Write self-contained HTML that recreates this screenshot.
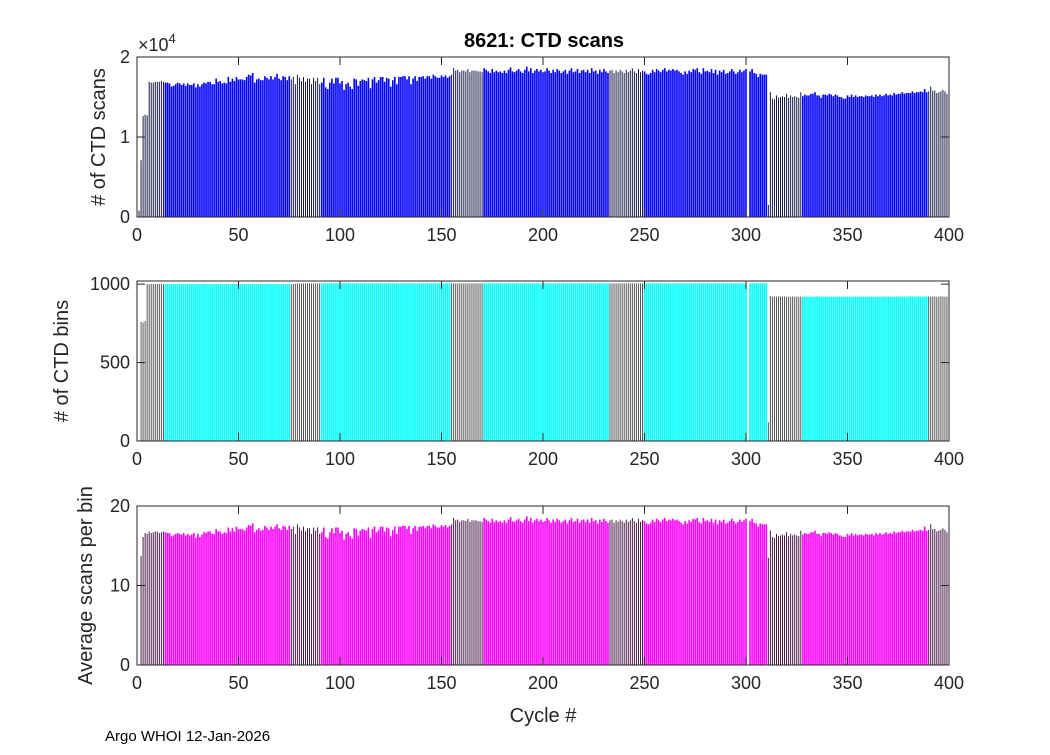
<!DOCTYPE html>
<html><head><meta charset="utf-8"><style>
body{margin:0;background:#fff;}
svg text{font-family:"Liberation Sans",sans-serif;fill:#262626;}
</style></head><body>
<svg id="fig" width="1050" height="750" viewBox="0 0 1050 750" xmlns="http://www.w3.org/2000/svg">
<rect width="1050" height="750" fill="#fff"/>
<text x="544" y="47" font-size="20" font-weight="bold" text-anchor="middle" style="fill:#000">8621: CTD scans</text>
<text x="543" y="722" font-size="20" text-anchor="middle">Cycle #</text>
<text x="105" y="741" font-size="15" style="fill:#000">Argo WHOI 12-Jan-2026</text>
<g id="plots"></g>
</svg>
<script>
const cycles = Array.from({length:400},(_,i)=>i+1);
const scansK = [
0.8,7.1,12.6,12.8,12.7,16.9,16.8,16.8,16.9,16.9,
16.9,17.0,16.9,16.8,16.8,16.7,16.3,16.4,16.6,16.8,
16.7,16.5,16.7,16.4,16.7,16.5,16.5,16.7,16.2,16.6,
16.3,16.6,16.8,16.7,16.9,16.9,16.6,16.6,17.3,16.9,
17.0,16.7,16.8,16.7,17.5,16.9,17.3,17.0,17.5,17.2,
17.2,17.2,17.1,17.5,17.8,17.7,18.0,16.8,17.2,17.3,
17.1,17.1,17.6,17.4,17.2,17.6,17.2,17.5,17.9,17.3,
17.1,17.6,17.5,17.1,17.6,17.2,17.5,16.6,17.8,17.4,
17.0,17.5,16.9,17.3,17.3,16.6,17.4,17.0,17.4,16.6,
16.8,17.4,16.2,16.0,16.8,17.3,16.7,17.4,17.4,16.7,
17.0,15.9,16.6,16.8,16.3,16.0,17.3,17.2,16.4,17.0,
17.2,17.1,17.0,17.4,16.1,17.2,17.5,16.8,17.1,17.5,
17.5,16.9,17.4,17.3,16.3,17.1,17.5,16.6,17.5,17.5,
17.6,17.6,17.2,17.6,16.6,17.3,17.6,17.0,17.5,17.5,
17.6,17.3,17.6,17.6,17.3,17.8,17.6,17.4,17.4,17.7,
17.5,17.7,17.4,17.6,17.8,18.6,18.3,18.4,18.1,18.3,
18.3,18.2,18.5,18.1,18.3,18.3,18.3,18.2,18.2,18.1,
18.6,18.4,18.2,18.0,18.5,18.1,18.3,18.1,18.2,18.0,
18.3,18.0,18.4,18.7,18.2,18.1,18.3,18.5,18.2,18.0,
18.4,18.8,18.2,18.6,18.0,18.3,18.5,18.2,18.4,18.1,
18.2,18.6,18.3,18.0,18.4,18.1,18.5,18.3,18.0,18.2,
18.4,17.9,18.3,18.6,18.1,18.2,18.5,18.0,18.3,18.4,
18.1,18.4,18.0,18.6,18.2,18.3,17.9,18.4,18.1,18.5,
18.2,18.0,18.3,18.4,18.0,18.3,18.1,18.4,18.2,18.0,
18.4,18.1,18.3,18.6,18.2,18.0,18.5,18.1,18.3,18.2,
17.9,17.8,18.0,18.4,18.1,18.5,18.3,18.1,18.4,18.6,
18.2,18.4,18.3,18.5,18.3,18.4,18.2,18.0,17.8,18.2,
17.9,18.3,18.1,18.5,18.4,18.6,18.1,17.9,18.6,18.2,
18.3,18.1,18.5,18.0,18.4,17.8,18.3,18.1,18.4,17.9,
18.0,18.2,18.5,18.2,17.9,18.1,18.4,18.1,18.3,18.5,
0,18.2,18.5,18.0,17.9,17.5,17.9,17.8,17.8,17.8,
1.5,15.6,14.8,14.7,15.2,14.9,15.0,15.1,15.0,15.4,
14.9,15.2,15.0,15.1,15.0,14.9,15.6,15.1,15.3,15.2,
15.2,15.4,15.4,15.6,15.2,15.2,14.9,15.3,15.3,15.2,
15.4,15.3,15.1,15.3,15.2,15.0,15.0,14.8,14.8,15.2,
15.0,15.3,15.0,15.2,15.0,15.1,15.1,15.0,15.2,15.1,
15.1,15.2,15.0,15.3,15.1,15.3,15.1,15.2,15.4,15.2,
15.3,15.2,15.5,15.3,15.4,15.4,15.6,15.4,15.5,15.5,
15.5,15.7,15.5,15.6,15.6,15.7,15.6,16.0,15.6,15.7,
16.3,15.8,15.8,15.5,15.6,15.7,15.9,15.7,15.4,15.5];
const bins = [
0,760,755,765,1000,1000,1001,1000,1000,1001,
1001,1000,1000,1000,1000,1000,1000,1000,1000,1000,
1000,1000,1000,1000,1001,1000,1000,1000,1000,1000,
1000,1000,1002,1001,1000,1000,1000,1000,1000,1000,
1000,1000,1000,1001,1000,1000,1001,1000,1002,1000,
1001,1000,1000,1000,1000,1001,1000,1000,1000,1000,
1000,1001,1000,1000,1002,1000,1000,1000,1000,1000,
1000,1000,1000,1000,1000,1000,1002,1003,1005,1005,
1005,1005,1005,1005,1005,1005,1005,1005,1005,1005,
1005,1005,1005,1005,1005,1005,1005,1005,1005,1005,
1005,1005,1005,1005,1005,1005,1005,1005,1005,1005,
1005,1005,1005,1005,1005,1005,1005,1005,1005,1005,
1005,1005,1005,1005,1005,1005,1005,1005,1005,1005,
1005,1005,1005,1005,1005,1005,1005,1005,1005,1005,
1005,1005,1005,1005,1005,1005,1005,1005,1005,1005,
1005,1005,1005,1005,1005,1005,1005,1005,1005,1005,
1005,1005,1005,1005,1005,1005,1005,1005,1005,1005,
1005,1005,1005,1005,1005,1005,1005,1005,1005,1005,
1005,1005,1005,1005,1005,1005,1005,1005,1005,1005,
1005,1005,1005,1005,1005,1005,1005,1005,1005,1005,
1005,1005,1005,1005,1005,1005,1005,1005,1005,1005,
1005,1005,1005,1005,1005,1005,1005,1005,1005,1005,
1005,1005,1005,1005,1005,1005,1005,1005,1005,1005,
1005,1005,1005,1005,1005,1005,1005,1005,1005,1005,
1005,1005,1005,1005,1005,1005,1005,1005,1005,1005,
1005,1005,1005,1005,1005,1005,1005,1005,1005,1005,
1005,1005,1005,1005,1005,1005,1005,1005,1005,1005,
1005,1005,1005,1005,1005,1005,1005,1005,1005,1005,
1005,1005,1005,1005,1005,1005,1005,1005,1005,1005,
1005,1005,1005,1005,1005,1005,1005,1005,1005,1005,
0,1005,1005,1005,1005,1005,1005,1005,1005,1005,
120,925,920,921,920,922,921,920,921,920,
921,920,922,920,921,920,921,920,920,921,
920,921,920,920,922,920,921,920,921,920,
920,921,920,921,920,920,920,921,920,920,
920,920,921,920,920,920,921,920,920,921,
920,921,920,920,921,920,920,922,920,921,
921,920,920,921,920,922,920,921,920,921,
922,921,920,921,922,920,921,920,922,921,
921,922,921,920,921,922,921,920,921,921];
const avgScans = [
0,13.7,16.1,16.6,16.5,16.8,16.6,16.7,16.8,16.8,
16.6,16.7,16.8,16.7,16.6,16.6,16.2,16.3,16.5,16.6,
16.5,16.4,16.6,16.3,16.5,16.3,16.4,16.6,16.0,16.5,
16.1,16.4,16.7,16.6,16.8,16.8,16.5,16.5,17.1,16.8,
16.8,16.5,16.7,16.6,17.3,16.8,17.2,16.8,17.4,17.1,
17.1,17.1,16.9,17.3,17.6,17.5,17.8,16.7,17.0,17.2,
16.9,17.0,17.5,17.3,17.0,17.4,17.1,17.4,17.7,17.2,
17.0,17.5,17.4,17.0,17.5,17.1,17.4,16.5,17.7,17.3,
16.9,17.4,16.8,17.2,17.2,16.5,17.3,16.9,17.3,16.5,
16.7,17.3,16.1,15.9,16.7,17.2,16.6,17.3,17.3,16.6,
16.9,15.8,16.5,16.7,16.2,15.9,17.2,17.1,16.3,16.9,
17.1,17.0,16.9,17.3,16.0,17.1,17.4,16.7,17.0,17.4,
17.4,16.8,17.3,17.2,16.2,17.0,17.4,16.5,17.4,17.4,
17.5,17.5,17.1,17.5,16.5,17.2,17.5,16.9,17.4,17.4,
17.5,17.2,17.5,17.5,17.2,17.7,17.5,17.3,17.3,17.6,
17.4,17.6,17.3,17.5,17.7,18.5,18.2,18.3,18.0,18.2,
18.2,18.1,18.4,18.0,18.2,18.2,18.2,18.1,18.1,18.0,
18.5,18.3,18.1,17.9,18.4,18.0,18.2,18.0,18.1,17.9,
18.2,17.9,18.3,18.6,18.1,18.0,18.2,18.4,18.1,17.9,
18.3,18.7,18.1,18.5,17.9,18.2,18.4,18.1,18.3,18.0,
18.1,18.5,18.2,17.9,18.3,18.0,18.4,18.2,17.9,18.1,
18.3,17.8,18.2,18.5,18.0,18.1,18.4,17.9,18.2,18.3,
18.0,18.3,17.9,18.5,18.1,18.2,17.8,18.3,18.0,18.4,
18.1,17.9,18.2,18.3,17.9,18.2,18.0,18.3,18.1,17.9,
18.3,18.0,18.2,18.5,18.1,17.9,18.4,18.0,18.2,18.1,
17.8,17.7,17.9,18.3,18.0,18.4,18.2,18.0,18.3,18.5,
18.1,18.3,18.2,18.4,18.2,18.3,18.1,17.9,17.7,18.1,
17.8,18.2,18.0,18.4,18.3,18.5,18.0,17.8,18.5,18.1,
18.2,18.0,18.4,17.9,18.3,17.7,18.2,18.0,18.3,17.8,
17.9,18.1,18.4,18.1,17.8,18.0,18.3,18.0,18.2,18.4,
0,18.1,18.4,17.9,17.8,17.4,17.8,17.7,17.7,17.7,
13.5,16.9,16.1,16.0,16.5,16.2,16.3,16.4,16.3,16.7,
16.2,16.5,16.3,16.4,16.3,16.2,16.9,16.4,16.6,16.5,
16.5,16.7,16.7,16.9,16.5,16.5,16.2,16.6,16.6,16.5,
16.7,16.6,16.4,16.6,16.5,16.3,16.3,16.1,16.1,16.5,
16.3,16.6,16.3,16.5,16.3,16.4,16.4,16.3,16.5,16.4,
16.4,16.5,16.3,16.6,16.4,16.6,16.4,16.5,16.7,16.5,
16.6,16.5,16.8,16.6,16.7,16.7,16.9,16.7,16.8,16.8,
16.8,17.0,16.8,16.9,16.9,17.0,16.9,17.4,16.9,17.0,
17.7,17.1,17.1,16.8,16.9,17.0,17.2,17.0,16.7,16.8];
const xTicks = [0,50,100,150,200,250,300,350,400];
const topTicks = [0,10,20], topTickLabels = ['0','1','2'];
const midTicks = [0,500,1000], midTickLabels = ['0','500','1000'];
const botTicks = [0,10,20], botTickLabels = ['0','10','20'];
// cycle ranges rendered as thin dark-edged bars in the reference (styling only)
const edgeRangeStart = [1,76,155,233,311,390];
const edgeRangeEnd = [13,90,170,249,327,400];

const NS='http://www.w3.org/2000/svg';
const g=document.getElementById('plots');
const X0=137,X1=949;
function xs(v){return X0+(v/400)*(X1-X0);}
function mk(tag,attrs){const e=document.createElementNS(NS,tag);for(const k in attrs)e.setAttribute(k,attrs[k]);return e;}
function isEdge(c){for(let i=0;i<edgeRangeStart.length;i++){if(c>=edgeRangeStart[i]&&c<=edgeRangeEnd[i])return true;}return false;}
function panel(name,top,bottom,ymax,vals,color,edgeColor,ticks,labels,ytitle,titleX){
  const ys=v=>bottom-(Math.min(v,ymax)/ymax)*(bottom-top);
  const grp=mk('g',{});
  
  
  g.appendChild(grp);
  const bw=(X1-X0)/400*0.8;
  vals.forEach((v,i)=>{
    if(v<=0)return;
    const c=cycles[i];
    const e=isEdge(c);
    const w=e?0.9:bw;
    const r=mk('rect',{x:xs(c)-w/2,y:ys(v),width:w,height:bottom-ys(v),fill:e?edgeColor:color});
    
    
    grp.appendChild(r);
  });
  const box=mk('rect',{x:X0,y:top,width:X1-X0,height:bottom-top,fill:'none',stroke:'#262626','stroke-width':1});
  
  
  grp.appendChild(box);
  xTicks.forEach(t=>{
    const x=xs(t);
    grp.appendChild(mk('line',{x1:x,x2:x,y1:bottom,y2:bottom-8,stroke:'#262626'}));
    grp.appendChild(mk('line',{x1:x,x2:x,y1:top,y2:top+8,stroke:'#262626'}));
    const tx=mk('text',{x:x,y:bottom+24,'font-size':18,'text-anchor':'middle'});
    
    
    tx.textContent=String(t);grp.appendChild(tx);
  });
  ticks.forEach((t,i)=>{
    const y=ys(t);
    grp.appendChild(mk('line',{x1:X0,x2:X0+8,y1:y,y2:y,stroke:'#262626'}));
    grp.appendChild(mk('line',{x1:X1,x2:X1-8,y1:y,y2:y,stroke:'#262626'}));
    const tx=mk('text',{x:X0-7,y:y+6,'font-size':18,'text-anchor':'end'});
    
    
    tx.textContent=labels[i];grp.appendChild(tx);
  });
  const yt=mk('text',{x:titleX,y:(top+bottom)/2,'font-size':20,'text-anchor':'middle',transform:'rotate(-90 '+titleX+' '+(top+bottom)/2+')'});
  
  
  yt.textContent=ytitle;grp.appendChild(yt);
}
panel('scans',57,217,20,scansK,'#0000ff','#000033',topTicks,topTickLabels,'# of CTD scans',105);
panel('bins',281,441,1020,bins,'#00ffff','#444444',midTicks,midTickLabels,'# of CTD bins',68);
panel('average',506,665,20,avgScans,'#ff00ff','#330033',botTicks,botTickLabels,'Average scans per bin',92);
const ex=mk('text',{x:138,y:51,'font-size':18});


ex.innerHTML='×10<tspan dy="-8" font-size="13">4</tspan>';
g.appendChild(ex);
</script>
</body></html>
